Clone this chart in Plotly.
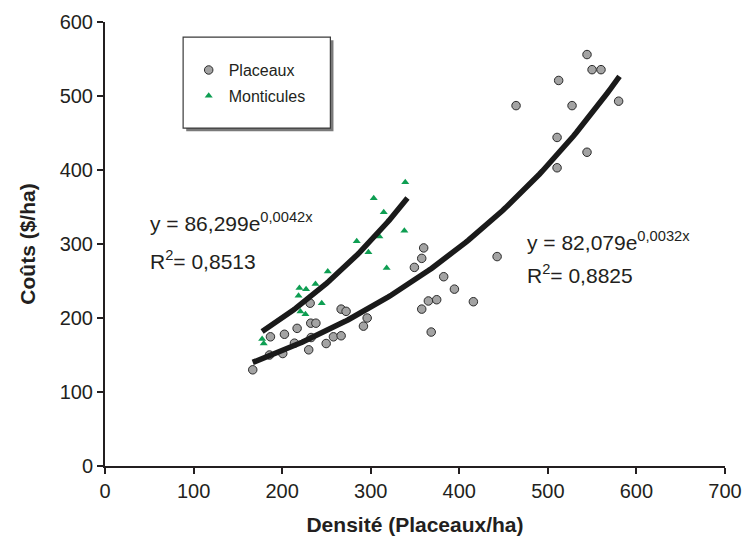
import numpy as np
import plotly.graph_objects as go

# Placeaux (circles)
plac_x = [166.8, 186.8, 202.6, 216.9, 231.6, 232.3, 238.1, 230.0, 249.7, 257.9,
          266.6, 266.6, 272.2, 296.0, 291.8, 185.7, 200.7, 213.9, 232.7, 359.8,
          357.6, 349.3, 382.4, 394.5, 365.1, 374.5, 357.6, 368.3, 415.9, 442.7,
          544.2, 549.9, 560.0, 512.2, 464.1, 527.3, 579.9, 510.4, 544.2, 510.4]
plac_y = [130, 174.6, 178, 186, 220, 193, 193, 157, 165.5, 174.6,
          176, 212, 209, 200, 189, 150, 152, 166, 173.6, 294.7,
          280.6, 268.4, 255.8, 239, 223, 224.7, 212, 181, 222, 283,
          556, 535.6, 535.6, 521, 487, 487, 493, 444, 424, 403]

# Monticules (triangles)
mont_x = [177.4, 179.2, 218.5, 219.5, 227.0, 220.6, 226.3, 237.6, 244.7, 251.5,
          284.2, 297.4, 309.8, 303.4, 314.7, 318.0, 339.0, 338.0]
mont_y = [171.5, 165.5, 230, 240.4, 239, 208.8, 205, 246, 220, 263,
          303.6, 288.7, 310, 361.8, 343, 267.6, 383.5, 318]

# Trendline coefficients as printed on the chart
plac_a, plac_b, plac_r2 = 82.079, 0.0032, "0,8825"
mont_a, mont_b, mont_r2 = 86.299, 0.0042, "0,8513"

x_ticks = [0, 100, 200, 300, 400, 500, 600, 700]
y_ticks = [0, 100, 200, 300, 400, 500, 600]

txt = "#231f20"
font_family = "Liberation Sans, Arial, Helvetica, sans-serif"

fig = go.Figure()
fig.add_trace(go.Scatter(x=plac_x, y=plac_y, mode="markers", name="Placeaux",
                         legendgroup="p",
                         marker=dict(symbol="circle", size=8.5, color="#a3a3a3",
                                     line=dict(color="#2b2b2b", width=1))))
fig.add_trace(go.Scatter(x=mont_x, y=mont_y, mode="markers", name="Monticules",
                         legendgroup="m",
                         marker=dict(symbol="triangle-up", size=7, color="#0e9e52",
                                     line=dict(width=0))))

# Exponential trendlines over each series' data range
xp = np.linspace(min(plac_x), max(plac_x) + 1, 120)
fig.add_trace(go.Scatter(x=xp, y=plac_a * np.exp(plac_b * xp), mode="lines",
                         line=dict(color="#1a1a1a", width=5.5), showlegend=False,
                         hoverinfo="skip"))
xm = np.linspace(min(mont_x), max(mont_x) + 2.5, 80)
fig.add_trace(go.Scatter(x=xm, y=mont_a * np.exp(mont_b * xm), mode="lines",
                         line=dict(color="#1a1a1a", width=5.5), showlegend=False,
                         hoverinfo="skip"))

def eq_text(a, b):
    return ("y = " + f"{a:.3f}".replace(".", ",") + "e<sup>"
            + f"{b:.4f}".replace(".", ",") + "x</sup>")

ann_font = dict(family=font_family, size=21, color=txt)
annotations = [
    dict(x=0.0695, y=0.5495, text=eq_text(mont_a, mont_b)),
    dict(x=0.0695, y=0.464, text="R<sup>2</sup>= " + mont_r2),
    dict(x=0.677, y=0.507, text=eq_text(plac_a, plac_b)),
    dict(x=0.677, y=0.432, text="R<sup>2</sup>= " + plac_r2),
]
for a in annotations:
    a.update(xref="paper", yref="paper", xanchor="left", yanchor="middle",
             showarrow=False, font=ann_font)

# legend box with shadow
bx0, bx1, by0, by1 = 0.126, 0.3635, 0.761, 0.966
shapes = [
    dict(type="rect", xref="paper", yref="paper", x0=bx0 + 0.005, x1=bx1 + 0.005,
         y0=by0 - 0.007, y1=by1 - 0.007, fillcolor="#7a7a7a", line=dict(width=0),
         layer="below"),
    dict(type="rect", xref="paper", yref="paper", x0=bx0, x1=bx1, y0=by0, y1=by1,
         fillcolor="white", line=dict(color="#3a3a3a", width=1.2), layer="below"),
]

fig.update_layout(
    width=745, height=542,
    margin=dict(l=105, r=20, t=22, b=76, autoexpand=False),
    paper_bgcolor="white", plot_bgcolor="white",
    font=dict(family=font_family, color=txt),
    showlegend=True,
    legend=dict(x=0.135, y=0.93, xanchor="left", yanchor="top",
                bgcolor="rgba(0,0,0,0)", borderwidth=0,
                font=dict(family=font_family, size=16, color=txt),
                tracegroupgap=2),
    annotations=annotations,
    shapes=shapes,
)
fig.update_xaxes(range=[0, 700], tickvals=x_ticks, ticktext=[str(v) for v in x_ticks],
                 automargin=False,
                 showgrid=False, zeroline=False, showline=True, linecolor="#231f20",
                 linewidth=2, ticks="outside", ticklen=6, tickwidth=2, tickcolor="#231f20",
                 tickfont=dict(size=20, color=txt),
                 title=dict(text="<b>Densité (Placeaux/ha)</b>", standoff=16,
                            font=dict(size=21, color=txt)))
fig.update_yaxes(range=[0, 600], tickvals=y_ticks, ticktext=[str(v) for v in y_ticks],
                 automargin=False,
                 showgrid=False, zeroline=False, showline=True, linecolor="#231f20",
                 linewidth=2, ticks="outside", ticklen=6, tickwidth=2, tickcolor="#231f20",
                 tickfont=dict(size=20, color=txt),
                 title=dict(text="<b>Coûts ($/ha)</b>", standoff=18,
                            font=dict(size=21, color=txt)))

# remove the page's default 8px body margin so the figure fills the window
fig.write_html("out.html",
               config={"displayModeBar": False},
               post_script="document.body.style.margin='0';document.body.style.overflow='hidden';")
